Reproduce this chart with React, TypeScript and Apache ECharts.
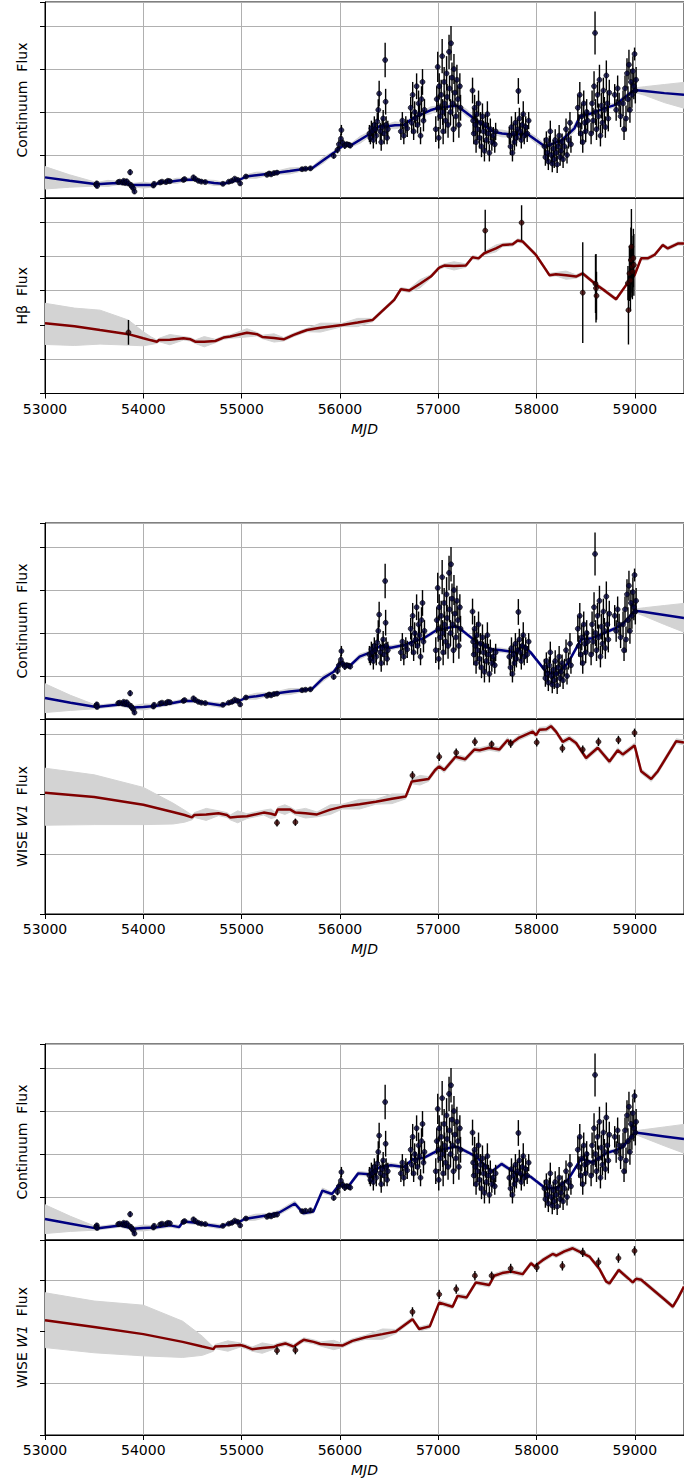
import React, { useEffect, useRef } from "react";
import * as echarts from "echarts";

// ---- x range and tick labels -------------------------------------------------
const MJD_MIN = 53000;
const MJD_MAX = 59500;
const MJD_STEP = 1000;

// ---- continuum photometry: [MJD, flux, 1-sigma error] -------------------------
const continuumPoints: number[][] = [
  [53520, 0.31, 0.05], [53527, 0.34, 0.05], [53530, 0.28, 0.05],
  [53745, 0.37, 0.04], [53760, 0.38, 0.04], [53790, 0.36, 0.05], [53800, 0.4, 0.04], [53815, 0.35, 0.05],
  [53830, 0.39, 0.05], [53850, 0.34, 0.05], [53866, 0.6, 0.07], [53875, 0.3, 0.06], [53885, 0.26, 0.05],
  [53900, 0.22, 0.06], [53910, 0.15, 0.05],
  [54103, 0.29, 0.05], [54110, 0.33, 0.05],
  [54171, 0.36, 0.04], [54190, 0.38, 0.04], [54230, 0.37, 0.04], [54250, 0.4, 0.04], [54270, 0.39, 0.04],
  [54408, 0.42, 0.04], [54420, 0.44, 0.04],
  [54510, 0.48, 0.05], [54530, 0.44, 0.04], [54560, 0.4, 0.04], [54590, 0.38, 0.04], [54630, 0.37, 0.04],
  [54810, 0.33, 0.04],
  [54870, 0.38, 0.04], [54900, 0.4, 0.05], [54930, 0.45, 0.04], [54960, 0.42, 0.05], [54985, 0.34, 0.05],
  [55044, 0.5, 0.04],
  [55258, 0.54, 0.04], [55280, 0.57, 0.05], [55300, 0.55, 0.04], [55330, 0.58, 0.05], [55360, 0.59, 0.05],
  [55615, 0.67, 0.05], [55650, 0.68, 0.04], [55700, 0.69, 0.05],
  [55937, 0.98, 0.06],
  [55975, 1.12, 0.08], [55990, 1.25, 0.1], [56010, 1.38, 0.12], [56015, 1.58, 0.12], [56030, 1.28, 0.08],
  [56050, 1.22, 0.08], [56070, 1.25, 0.06], [56090, 1.24, 0.06], [56105, 1.22, 0.06],
  [56300, 1.5, 0.2], [56310, 1.4, 0.15], [56320, 1.62, 0.18], [56330, 1.55, 0.2], [56340, 1.35, 0.2],
  [56350, 1.7, 0.2], [56360, 1.6, 0.15], [56370, 1.45, 0.2], [56380, 1.78, 0.2], [56390, 2.05, 0.25],
  [56399, 2.43, 0.3], [56410, 1.55, 0.2], [56420, 1.3, 0.2], [56430, 1.65, 0.2], [56440, 1.85, 0.2],
  [56450, 1.5, 0.25], [56460, 3.21, 0.4], [56465, 2.24, 0.3], [56470, 1.7, 0.2], [56480, 1.4, 0.15],
  [56487, 1.6, 0.2],
  [56620, 1.55, 0.2], [56635, 1.8, 0.2], [56650, 1.45, 0.2], [56670, 1.7, 0.2], [56685, 1.62, 0.2],
  [56720, 2.1, 0.25], [56730, 1.75, 0.25], [56740, 2.4, 0.3], [56750, 1.55, 0.2], [56760, 2.0, 0.25],
  [56770, 1.85, 0.2], [56780, 2.6, 0.3], [56790, 1.7, 0.2], [56800, 2.2, 0.3], [56810, 1.95, 0.25],
  [56820, 1.45, 0.2], [56830, 2.3, 0.3], [56840, 2.7, 0.3], [56850, 1.8, 0.25], [56860, 2.05, 0.25],
  [56975, 1.6, 0.3], [56985, 2.3, 0.3], [56995, 3.05, 0.35], [57000, 2.1, 0.3], [57005, 1.4, 0.25],
  [57010, 2.6, 0.3], [57020, 1.9, 0.3], [57030, 2.4, 0.35], [57040, 3.3, 0.4], [57045, 2.0, 0.3],
  [57050, 1.55, 0.3], [57060, 2.7, 0.35], [57065, 2.2, 0.3], [57075, 1.8, 0.3], [57085, 2.9, 0.4],
  [57090, 2.35, 0.3], [57100, 1.7, 0.3], [57110, 3.4, 0.4], [57115, 2.55, 0.3], [57125, 2.0, 0.3],
  [57130, 3.6, 0.4], [57140, 2.8, 0.35], [57146, 2.2, 0.3], [57155, 1.6, 0.3], [57160, 3.0, 0.35],
  [57170, 2.45, 0.3], [57180, 1.9, 0.3], [57190, 2.75, 0.35], [57200, 2.3, 0.3], [57210, 1.7, 0.3],
  [57220, 2.6, 0.3], [57227, 2.1, 0.3],
  [57349, 2.5, 0.3], [57355, 1.8, 0.3], [57362, 1.5, 0.25], [57370, 2.1, 0.3], [57378, 1.7, 0.25],
  [57385, 1.3, 0.25], [57392, 1.95, 0.3], [57400, 1.6, 0.25], [57410, 2.2, 0.3], [57420, 1.4, 0.25],
  [57430, 1.75, 0.25], [57440, 1.2, 0.25], [57450, 1.9, 0.3], [57460, 1.55, 0.25], [57470, 1.1, 0.25],
  [57480, 1.7, 0.25], [57490, 1.35, 0.25], [57500, 1.95, 0.3], [57510, 1.5, 0.25], [57520, 1.05, 0.2],
  [57530, 1.6, 0.25], [57545, 1.3, 0.2], [57560, 1.45, 0.2], [57575, 1.25, 0.2], [57584, 1.55, 0.2],
  [57723, 1.45, 0.2], [57735, 1.2, 0.2], [57745, 1.65, 0.25], [57755, 1.05, 0.2], [57765, 1.5, 0.25],
  [57775, 1.3, 0.2], [57785, 1.75, 0.25], [57795, 1.4, 0.2], [57805, 1.6, 0.25], [57815, 2.49, 0.3],
  [57825, 1.85, 0.25], [57835, 1.55, 0.2], [57845, 1.35, 0.2], [57855, 1.7, 0.25], [57865, 1.95, 0.3],
  [57875, 1.45, 0.2], [57890, 1.65, 0.25], [57905, 1.5, 0.2], [57920, 1.8, 0.2],
  [58080, 1.2, 0.2], [58090, 0.95, 0.2], [58100, 1.35, 0.2], [58110, 1.05, 0.2], [58120, 0.85, 0.2],
  [58130, 1.25, 0.2], [58140, 1.55, 0.25], [58150, 1.0, 0.2], [58160, 0.8, 0.2], [58170, 1.15, 0.2],
  [58180, 0.9, 0.2], [58190, 1.35, 0.25], [58200, 1.05, 0.2], [58210, 0.78, 0.2], [58220, 1.2, 0.2],
  [58230, 1.45, 0.25], [58240, 0.95, 0.2], [58250, 1.1, 0.2], [58260, 1.3, 0.2], [58270, 0.9, 0.2],
  [58285, 1.2, 0.2], [58300, 1.6, 0.25], [58310, 1.0, 0.2], [58325, 1.35, 0.2], [58340, 1.75, 0.25],
  [58350, 1.25, 0.2],
  [58420, 2.1, 0.3], [58430, 1.7, 0.25], [58440, 2.4, 0.3], [58450, 1.5, 0.25], [58460, 1.9, 0.3],
  [58470, 1.3, 0.25], [58480, 2.2, 0.3], [58490, 1.75, 0.25], [58500, 1.55, 0.25], [58510, 2.0, 0.3],
  [58520, 1.8, 0.25],
  [58555, 1.5, 0.25], [58565, 2.2, 0.3], [58575, 1.8, 0.3], [58585, 2.6, 0.35], [58595, 3.84, 0.5],
  [58600, 2.0, 0.3], [58610, 1.6, 0.25], [58620, 2.4, 0.3], [58630, 1.9, 0.3], [58640, 2.75, 0.35],
  [58650, 1.45, 0.25], [58660, 2.15, 0.3], [58670, 1.75, 0.25], [58680, 2.5, 0.3], [58690, 2.05, 0.3],
  [58700, 1.65, 0.25], [58710, 2.85, 0.35], [58720, 2.2, 0.3], [58730, 1.85, 0.3], [58740, 2.45, 0.3],
  [58795, 2.4, 0.25], [58810, 2.05, 0.25], [58825, 2.55, 0.3], [58840, 2.2, 0.25], [58855, 1.9, 0.25],
  [58880, 2.2, 0.3], [58890, 1.6, 0.25], [58900, 2.55, 0.3], [58910, 1.85, 0.3], [58920, 2.9, 0.35],
  [58930, 2.3, 0.3], [58940, 3.1, 0.35], [58950, 2.05, 0.3], [58960, 2.7, 0.3], [58970, 2.4, 0.3],
  [58980, 2.95, 0.35], [58990, 2.6, 0.3], [58997, 3.35, 0.15], [59005, 2.5, 0.3], [59013, 2.75, 0.3],
];

// ---- continuum models: [MJD, flux, band below, band above] -------------------
const continuumModelHb: number[][] = [
  [53000, 0.48, 0.27, 0.25], [53250, 0.4, 0.15, 0.14], [53527, 0.32, 0.04, 0.04], [53640, 0.34, 0.07, 0.07],
  [53745, 0.35, 0.04, 0.04], [53900, 0.3, 0.04, 0.04], [54000, 0.3, 0.07, 0.07], [54103, 0.3, 0.04, 0.04],
  [54171, 0.36, 0.04, 0.04], [54273, 0.38, 0.04, 0.04], [54340, 0.4, 0.06, 0.06], [54408, 0.42, 0.04, 0.04],
  [54520, 0.43, 0.04, 0.04], [54630, 0.38, 0.04, 0.04], [54720, 0.35, 0.06, 0.06], [54810, 0.33, 0.04, 0.04],
  [54900, 0.38, 0.04, 0.04], [54986, 0.43, 0.04, 0.04], [55044, 0.5, 0.04, 0.04], [55150, 0.53, 0.07, 0.07],
  [55258, 0.56, 0.04, 0.04], [55360, 0.59, 0.04, 0.04], [55490, 0.63, 0.07, 0.07], [55615, 0.67, 0.04, 0.04],
  [55717, 0.69, 0.04, 0.04], [55830, 0.88, 0.07, 0.07], [55937, 1.05, 0.04, 0.04], [56050, 1.25, 0.04, 0.04],
  [56107, 1.22, 0.04, 0.04], [56210, 1.36, 0.08, 0.08], [56311, 1.5, 0.05, 0.05], [56400, 1.67, 0.05, 0.05],
  [56487, 1.67, 0.05, 0.05], [56560, 1.69, 0.08, 0.08], [56650, 1.7, 0.05, 0.05], [56751, 1.87, 0.05, 0.05],
  [56853, 1.97, 0.05, 0.05], [56920, 2.04, 0.08, 0.08], [56990, 2.09, 0.05, 0.05], [57146, 2.14, 0.05, 0.05],
  [57193, 2.14, 0.05, 0.05], [57290, 1.98, 0.08, 0.08], [57363, 1.85, 0.05, 0.05], [57560, 1.54, 0.05, 0.05],
  [57650, 1.5, 0.08, 0.08], [57780, 1.47, 0.05, 0.05], [57900, 1.5, 0.05, 0.05], [58000, 1.34, 0.08, 0.08],
  [58090, 1.19, 0.05, 0.05], [58260, 1.35, 0.05, 0.05], [58385, 1.62, 0.08, 0.08], [58440, 1.89, 0.05, 0.05],
  [58560, 1.97, 0.05, 0.05], [58694, 2.09, 0.05, 0.05], [58795, 2.16, 0.05, 0.05], [58990, 2.51, 0.05, 0.05],
  [59100, 2.49, 0.1, 0.1], [59300, 2.44, 0.22, 0.2], [59500, 2.4, 0.31, 0.29],
];

const continuumModelW1a: number[][] = [
  [53000, 0.49, 0.34, 0.33], [53260, 0.38, 0.18, 0.17], [53520, 0.28, 0.04, 0.04], [53764, 0.34, 0.04, 0.04],
  [53896, 0.27, 0.04, 0.04], [54000, 0.28, 0.07, 0.07], [54120, 0.3, 0.04, 0.04], [54273, 0.36, 0.04, 0.04],
  [54406, 0.42, 0.04, 0.04], [54540, 0.42, 0.04, 0.04], [54630, 0.37, 0.04, 0.04], [54784, 0.32, 0.05, 0.05],
  [54896, 0.38, 0.04, 0.04], [54986, 0.43, 0.04, 0.04], [55044, 0.5, 0.04, 0.04], [55150, 0.53, 0.07, 0.07],
  [55258, 0.57, 0.04, 0.04], [55360, 0.6, 0.04, 0.04], [55490, 0.64, 0.07, 0.07], [55615, 0.67, 0.04, 0.04],
  [55717, 0.7, 0.04, 0.04], [55830, 0.95, 0.07, 0.07], [55937, 1.1, 0.04, 0.04], [56000, 1.3, 0.04, 0.04],
  [56107, 1.25, 0.04, 0.04], [56200, 1.45, 0.06, 0.06], [56311, 1.55, 0.04, 0.04], [56408, 1.7, 0.04, 0.04],
  [56519, 1.66, 0.05, 0.05], [56653, 1.72, 0.04, 0.04], [56741, 1.8, 0.04, 0.04], [56852, 1.88, 0.04, 0.04],
  [56986, 2.07, 0.04, 0.04], [57164, 2.15, 0.04, 0.04], [57200, 2.14, 0.04, 0.04], [57386, 1.8, 0.04, 0.04],
  [57541, 1.62, 0.04, 0.04], [57644, 1.6, 0.05, 0.05], [57786, 1.55, 0.04, 0.04], [57860, 1.72, 0.04, 0.04],
  [57940, 1.55, 0.04, 0.04], [58097, 1.1, 0.04, 0.04], [58208, 1.05, 0.04, 0.04], [58319, 1.3, 0.04, 0.04],
  [58453, 1.85, 0.04, 0.04], [58564, 1.88, 0.04, 0.04], [58720, 2.03, 0.04, 0.04], [58808, 2.12, 0.04, 0.04],
  [58875, 2.2, 0.04, 0.04], [59000, 2.52, 0.04, 0.04], [59100, 2.49, 0.1, 0.1], [59300, 2.42, 0.22, 0.22],
  [59500, 2.35, 0.33, 0.34],
];

const continuumModelW1b: number[][] = [
  [53000, 0.49, 0.34, 0.33], [53260, 0.38, 0.18, 0.17], [53520, 0.27, 0.04, 0.04], [53764, 0.34, 0.04, 0.04],
  [53896, 0.26, 0.04, 0.04], [54000, 0.28, 0.07, 0.07], [54120, 0.29, 0.04, 0.04], [54273, 0.34, 0.04, 0.04],
  [54365, 0.3, 0.04, 0.04], [54406, 0.43, 0.04, 0.04], [54540, 0.4, 0.04, 0.04], [54630, 0.36, 0.04, 0.04],
  [54784, 0.31, 0.05, 0.05], [54896, 0.4, 0.04, 0.04], [54986, 0.43, 0.04, 0.04], [55027, 0.49, 0.04, 0.04],
  [55140, 0.53, 0.07, 0.07], [55251, 0.57, 0.04, 0.04], [55384, 0.64, 0.05, 0.05], [55541, 0.85, 0.06, 0.06],
  [55629, 0.62, 0.04, 0.04], [55730, 0.66, 0.04, 0.04], [55822, 1.15, 0.06, 0.06], [55919, 1.07, 0.04, 0.04],
  [55985, 1.26, 0.04, 0.04], [56097, 1.28, 0.04, 0.04], [56186, 1.55, 0.05, 0.05], [56297, 1.53, 0.04, 0.04],
  [56408, 1.7, 0.04, 0.04], [56519, 1.74, 0.05, 0.05], [56653, 1.7, 0.04, 0.04], [56741, 1.88, 0.04, 0.04],
  [56852, 1.91, 0.04, 0.04], [56986, 2.07, 0.04, 0.04], [57164, 2.17, 0.04, 0.04], [57200, 2.16, 0.04, 0.04],
  [57386, 1.94, 0.04, 0.04], [57541, 1.59, 0.04, 0.04], [57644, 1.77, 0.05, 0.05], [57786, 1.56, 0.04, 0.04],
  [57940, 1.47, 0.04, 0.04], [58097, 1.19, 0.04, 0.04], [58208, 1.22, 0.04, 0.04], [58319, 1.4, 0.04, 0.04],
  [58453, 1.89, 0.04, 0.04], [58564, 1.81, 0.04, 0.04], [58720, 2.03, 0.04, 0.04], [58808, 2.09, 0.04, 0.04],
  [58875, 2.16, 0.04, 0.04], [59000, 2.5, 0.04, 0.04], [59100, 2.47, 0.1, 0.1], [59300, 2.41, 0.22, 0.22],
  [59500, 2.35, 0.33, 0.34],
];

// ---- H-beta line flux ------------------------------------------------------
const hbPoints: number[][] = [
  [53849, 1.78, 0.36], [57478, 4.75, 0.61], [57848, 4.98, 0.51], [58470, 2.94, 1.47],
  [58600, 3.2, 0.85], [58605, 3.07, 1.0], [58610, 2.85, 0.7],
  [58930, 3.22, 0.5], [58935, 2.43, 1.0], [58945, 3.5, 0.8], [58955, 3.3, 0.9], [58960, 3.89, 0.95],
  [58965, 4.28, 1.1], [58970, 3.7, 0.9], [58975, 3.55, 0.8], [58985, 3.95, 0.85], [58990, 3.75, 0.9],
];

const hbModel: number[][] = [
  [53000, 2.05, 0.62, 0.58], [53300, 1.96, 0.56, 0.53], [53560, 1.85, 0.41, 0.58], [53849, 1.73, 0.32, 0.41],
  [54000, 1.61, 0.22, 0.19], [54080, 1.55, 0.12, 0.1],
  [54138, 1.51, 0.05, 0.05], [54160, 1.56, 0.05, 0.05], [54270, 1.57, 0.15, 0.15], [54408, 1.61, 0.05, 0.05],
  [54480, 1.58, 0.05, 0.05], [54528, 1.51, 0.05, 0.05], [54620, 1.51, 0.15, 0.15], [54732, 1.53, 0.05, 0.05],
  [54816, 1.63, 0.05, 0.05], [54884, 1.66, 0.05, 0.05], [55054, 1.77, 0.12, 0.12], [55156, 1.73, 0.05, 0.05],
  [55210, 1.65, 0.05, 0.05], [55330, 1.62, 0.12, 0.12], [55428, 1.58, 0.05, 0.05], [55530, 1.71, 0.05, 0.05],
  [55615, 1.8, 0.05, 0.05], [55666, 1.85, 0.05, 0.05], [55801, 1.92, 0.13, 0.13], [56025, 2.0, 0.05, 0.05],
  [56180, 2.07, 0.12, 0.12], [56331, 2.14, 0.05, 0.05], [56552, 2.73, 0.05, 0.05], [56620, 3.04, 0.05, 0.05],
  [56704, 3.0, 0.05, 0.05], [56815, 3.2, 0.12, 0.12], [56925, 3.41, 0.05, 0.05], [57010, 3.67, 0.05, 0.05],
  [57061, 3.73, 0.05, 0.05], [57160, 3.72, 0.12, 0.12], [57281, 3.73, 0.05, 0.05], [57349, 3.97, 0.05, 0.05],
  [57410, 3.94, 0.05, 0.05], [57468, 4.09, 0.05, 0.05], [57587, 4.23, 0.1, 0.1], [57655, 4.33, 0.05, 0.05],
  [57757, 4.35, 0.05, 0.05], [57808, 4.46, 0.05, 0.05], [57860, 4.43, 0.05, 0.05], [57994, 4.04, 0.05, 0.05],
  [58062, 3.75, 0.05, 0.05], [58131, 3.45, 0.05, 0.05], [58198, 3.48, 0.05, 0.05], [58300, 3.45, 0.12, 0.12],
  [58402, 3.41, 0.05, 0.05], [58470, 3.5, 0.05, 0.05], [58605, 3.18, 0.05, 0.05], [58707, 2.97, 0.05, 0.05],
  [58809, 2.75, 0.05, 0.05], [58911, 3.16, 0.05, 0.05], [58997, 3.45, 0.05, 0.05], [59064, 3.94, 0.05, 0.05],
  [59130, 3.94, 0.05, 0.05], [59200, 4.04, 0.05, 0.05], [59284, 4.33, 0.05, 0.05], [59335, 4.23, 0.05, 0.05],
  [59437, 4.37, 0.05, 0.05], [59500, 4.37, 0.05, 0.05],
];

// ---- WISE W1 photometry, two reductions ------------------------------------
const w1PointsA: number[][] = [
  [55360, 1.52, 0.06], [55547, 1.53, 0.06], [56738, 2.31, 0.07], [57010, 2.62, 0.07], [57183, 2.69, 0.07],
  [57373, 2.87, 0.07], [57543, 2.83, 0.06], [57737, 2.84, 0.07], [58002, 2.86, 0.07], [58263, 2.76, 0.07],
  [58470, 2.74, 0.07], [58630, 2.87, 0.07], [58833, 2.9, 0.07], [58997, 3.02, 0.07],
];

const w1ModelA: number[][] = [
  [53000, 2.02, 0.54, 0.41], [53500, 1.95, 0.46, 0.37], [54000, 1.82, 0.33, 0.29], [54300, 1.7, 0.2, 0.15],
  [54420, 1.65, 0.12, 0.08],
  [54494, 1.61, 0.04, 0.04], [54520, 1.65, 0.04, 0.04], [54640, 1.66, 0.1, 0.1], [54765, 1.68, 0.04, 0.04],
  [54850, 1.65, 0.04, 0.04], [54884, 1.61, 0.04, 0.04], [54960, 1.62, 0.1, 0.1], [55054, 1.63, 0.04, 0.04],
  [55224, 1.69, 0.04, 0.04], [55300, 1.67, 0.08, 0.08], [55343, 1.65, 0.04, 0.04], [55367, 1.74, 0.04, 0.04],
  [55440, 1.74, 0.08, 0.08], [55496, 1.74, 0.04, 0.04], [55547, 1.69, 0.04, 0.04], [55650, 1.68, 0.08, 0.08],
  [55767, 1.66, 0.04, 0.04], [55903, 1.74, 0.08, 0.08], [56025, 1.79, 0.04, 0.04], [56200, 1.83, 0.08, 0.08],
  [56365, 1.87, 0.04, 0.04], [56530, 1.92, 0.08, 0.08], [56670, 1.96, 0.04, 0.04], [56731, 2.21, 0.04, 0.04],
  [56815, 2.23, 0.08, 0.08], [56901, 2.25, 0.04, 0.04], [56969, 2.4, 0.04, 0.04], [57010, 2.46, 0.04, 0.04],
  [57061, 2.4, 0.04, 0.04], [57176, 2.62, 0.04, 0.04], [57275, 2.58, 0.04, 0.04], [57367, 2.74, 0.04, 0.04],
  [57420, 2.73, 0.04, 0.04], [57519, 2.77, 0.04, 0.04], [57621, 2.74, 0.04, 0.04], [57706, 2.9, 0.04, 0.04],
  [57740, 2.84, 0.04, 0.04], [57825, 2.94, 0.04, 0.04], [57961, 3.04, 0.04, 0.04], [57995, 2.98, 0.04, 0.04],
  [58029, 3.07, 0.04, 0.04], [58100, 3.08, 0.04, 0.04], [58147, 3.13, 0.04, 0.04], [58198, 3.04, 0.04, 0.04],
  [58266, 2.87, 0.04, 0.04], [58334, 2.93, 0.04, 0.04], [58402, 2.85, 0.04, 0.04], [58504, 2.6, 0.04, 0.04],
  [58623, 2.77, 0.04, 0.04], [58742, 2.54, 0.04, 0.04], [58826, 2.73, 0.04, 0.04], [58877, 2.66, 0.04, 0.04],
  [58997, 2.81, 0.04, 0.04], [59064, 2.38, 0.04, 0.04], [59166, 2.25, 0.04, 0.04], [59234, 2.38, 0.04, 0.04],
  [59421, 2.88, 0.04, 0.04], [59500, 2.86, 0.04, 0.04],
];

const w1PointsB: number[][] = [
  [55360, 1.63, 0.08], [55547, 1.64, 0.08], [56738, 2.38, 0.09], [57010, 2.72, 0.09], [57183, 2.82, 0.09],
  [57373, 3.08, 0.09], [57543, 3.08, 0.08], [57737, 3.22, 0.09], [58002, 3.24, 0.09], [58263, 3.27, 0.09],
  [58470, 3.53, 0.09], [58630, 3.34, 0.09], [58833, 3.42, 0.09], [58997, 3.56, 0.09],
];

const w1ModelB: number[][] = [
  [53000, 2.22, 0.53, 0.53], [53500, 2.09, 0.5, 0.5], [54000, 1.95, 0.42, 0.56], [54400, 1.8, 0.3, 0.4],
  [54600, 1.71, 0.17, 0.2],
  [54714, 1.66, 0.04, 0.04], [54730, 1.71, 0.04, 0.04], [54860, 1.72, 0.1, 0.1], [54986, 1.74, 0.04, 0.04],
  [55040, 1.71, 0.04, 0.04], [55106, 1.66, 0.04, 0.04], [55210, 1.68, 0.1, 0.1], [55326, 1.7, 0.04, 0.04],
  [55360, 1.73, 0.04, 0.04], [55445, 1.77, 0.04, 0.04], [55530, 1.71, 0.04, 0.04], [55598, 1.8, 0.04, 0.04],
  [55632, 1.84, 0.04, 0.04], [55733, 1.8, 0.04, 0.04], [55801, 1.76, 0.04, 0.04], [55937, 1.74, 0.09, 0.09],
  [56025, 1.73, 0.04, 0.04], [56127, 1.82, 0.04, 0.04], [56263, 1.89, 0.04, 0.04], [56433, 1.95, 0.1, 0.1],
  [56568, 2.0, 0.04, 0.04], [56738, 2.24, 0.04, 0.04], [56806, 2.05, 0.04, 0.04], [56914, 2.1, 0.04, 0.04],
  [57010, 2.56, 0.04, 0.04], [57146, 2.48, 0.04, 0.04], [57197, 2.69, 0.04, 0.04], [57289, 2.66, 0.04, 0.04],
  [57383, 2.95, 0.04, 0.04], [57519, 2.9, 0.04, 0.04], [57570, 3.08, 0.04, 0.04], [57650, 3.13, 0.04, 0.04],
  [57740, 3.16, 0.04, 0.04], [57859, 3.11, 0.04, 0.04], [57944, 3.32, 0.04, 0.04], [57980, 3.26, 0.04, 0.04],
  [58062, 3.38, 0.04, 0.04], [58164, 3.5, 0.04, 0.04], [58200, 3.47, 0.04, 0.04], [58283, 3.55, 0.04, 0.04],
  [58368, 3.61, 0.04, 0.04], [58400, 3.58, 0.04, 0.04], [58538, 3.45, 0.04, 0.04], [58640, 3.21, 0.04, 0.04],
  [58707, 2.97, 0.04, 0.04], [58742, 2.93, 0.04, 0.04], [58836, 3.19, 0.04, 0.04], [58979, 2.95, 0.04, 0.04],
  [59013, 3.02, 0.04, 0.04], [59064, 3.0, 0.04, 0.04], [59302, 2.62, 0.04, 0.04], [59387, 2.48, 0.04, 0.04],
  [59437, 2.64, 0.04, 0.04], [59500, 2.87, 0.04, 0.04],
];

// ---- styling ---------------------------------------------------------------
const NAVY = "#000080";
const MAROON = "#800000";
const BAND = "#d3d3d3";
const GRID_LINE = "#b0b0b0";
const FONT = "DejaVu Sans";

type Panel = {
  top: number;
  height: number;
  yMax: number;
  model: number[][];
  points: number[][];
  color: string;
  pointFill: string;
  name: string;
  showX: boolean;
};

const panels: Panel[] = [
  { top: 2, height: 196, yMax: 4.56, model: continuumModelHb, points: continuumPoints, color: NAVY, pointFill: "#00003a", name: "Continuum  Flux", showX: false },
  { top: 198, height: 195.5, yMax: 5.7, model: hbModel, points: hbPoints, color: MAROON, pointFill: "#3a0000", name: "Hβ  Flux", showX: true },
  { top: 523, height: 196, yMax: 4.56, model: continuumModelW1a, points: continuumPoints, color: NAVY, pointFill: "#00003a", name: "Continuum  Flux", showX: false },
  { top: 719, height: 195, yMax: 3.25, model: w1ModelA, points: w1PointsA, color: MAROON, pointFill: "#3a0000", name: "{n|WISE }{i|W1}{n|  Flux}", showX: true },
  { top: 1044, height: 196, yMax: 4.56, model: continuumModelW1b, points: continuumPoints, color: NAVY, pointFill: "#00003a", name: "Continuum  Flux", showX: false },
  { top: 1240, height: 195, yMax: 3.77, model: w1ModelB, points: w1PointsB, color: MAROON, pointFill: "#3a0000", name: "{n|WISE }{i|W1}{n|  Flux}", showX: true },
];

function buildOption() {
  const grid: any[] = [];
  const xAxis: any[] = [];
  const yAxis: any[] = [];
  const series: any[] = [];

  panels.forEach((p, i) => {
    grid.push({
      left: 45,
      right: 0,
      top: p.top,
      height: p.height,
      show: true,
      borderColor: "#000",
      borderWidth: 1,
      backgroundColor: "transparent",
    });
    xAxis.push({
      type: "value",
      gridIndex: i,
      min: MJD_MIN,
      max: MJD_MAX,
      interval: MJD_STEP,
      axisLine: { show: true, lineStyle: { color: "#000", width: 1 } },
      axisTick: { show: p.showX, length: 5, lineStyle: { color: "#000" } },
      axisLabel: {
        show: p.showX,
        showMaxLabel: false,
        color: "#000",
        fontSize: 14,
        fontFamily: FONT,
        margin: 8,
        formatter: (v: number) => String(v),
      },
      splitLine: { show: true, lineStyle: { color: GRID_LINE, width: 1 } },
      name: p.showX ? "MJD" : "",
      nameLocation: "middle",
      nameGap: 28,
      nameTextStyle: { color: "#000", fontSize: 14, fontFamily: FONT, fontStyle: "italic" },
    });
    yAxis.push({
      type: "value",
      gridIndex: i,
      min: 0,
      max: p.yMax,
      interval: 1,
      axisLine: { show: true, lineStyle: { color: "#000", width: 1 } },
      axisTick: { show: true, length: 5, lineStyle: { color: "#000" } },
      axisLabel: { show: false },
      splitLine: { show: true, lineStyle: { color: GRID_LINE, width: 1 } },
      name: p.name,
      nameLocation: "middle",
      nameGap: 16,
      nameTextStyle: {
        color: "#000",
        fontSize: 14,
        fontFamily: FONT,
        rich: {
          n: { fontSize: 14, fontFamily: FONT, color: "#000" },
          i: { fontSize: 14, fontFamily: FONT, color: "#000", fontStyle: "italic" },
        },
      },
    });

    const model = p.model;
    // uncertainty band around the model curve
    series.push({
      type: "custom",
      xAxisIndex: i,
      yAxisIndex: i,
      z: 1,
      silent: true,
      clip: true,
      data: [[model[0][0], model[0][1]]],
      encode: { x: 0, y: 1 },
      renderItem: (_params: any, api: any) => {
        const upper = model.map((d) => api.coord([d[0], d[1] + d[3]]));
        const lower = model
          .slice()
          .reverse()
          .map((d) => api.coord([d[0], d[1] - d[2]]));
        return {
          type: "polygon",
          shape: { points: upper.concat(lower) },
          style: { fill: BAND, stroke: BAND, lineWidth: 1, lineJoin: "round" },
        };
      },
    });
    // model curve
    series.push({
      type: "line",
      xAxisIndex: i,
      yAxisIndex: i,
      z: 2,
      silent: true,
      showSymbol: false,
      data: model.map((d) => [d[0], d[1]]),
      lineStyle: { color: p.color, width: 2.5 },
      itemStyle: { color: p.color },
    });
    // error bars
    series.push({
      type: "custom",
      xAxisIndex: i,
      yAxisIndex: i,
      z: 3,
      silent: true,
      clip: true,
      data: p.points,
      encode: { x: 0, y: 1 },
      renderItem: (_params: any, api: any) => {
        const x = api.value(0);
        const y = api.value(1);
        const e = api.value(2);
        const a = api.coord([x, y - e]);
        const b = api.coord([x, y + e]);
        return {
          type: "line",
          shape: { x1: a[0], y1: a[1], x2: b[0], y2: b[1] },
          style: { stroke: "#000", lineWidth: 1.4 },
        };
      },
    });
    // measurements
    series.push({
      type: "scatter",
      xAxisIndex: i,
      yAxisIndex: i,
      z: 4,
      silent: true,
      symbolSize: 5,
      data: p.points.map((d) => [d[0], d[1]]),
      itemStyle: { color: p.pointFill, borderColor: "#000", borderWidth: 0.8 },
    });
  });

  return {
    animation: false,
    backgroundColor: "#fff",
    textStyle: { fontFamily: FONT },
    grid,
    xAxis,
    yAxis,
    series,
  };
}

export default function App() {
  const ref = useRef<HTMLDivElement>(null);

  useEffect(() => {
    document.body.style.margin = "0";
    if (!ref.current) return;
    const chart = echarts.init(ref.current, undefined, { renderer: "svg" });
    chart.setOption(buildOption() as any);
    return () => {
      chart.dispose();
    };
  }, []);

  return (
    <div
      ref={ref}
      style={{ position: "absolute", left: 0, top: 0, width: 684, height: 1483, background: "#fff" }}
    />
  );
}
